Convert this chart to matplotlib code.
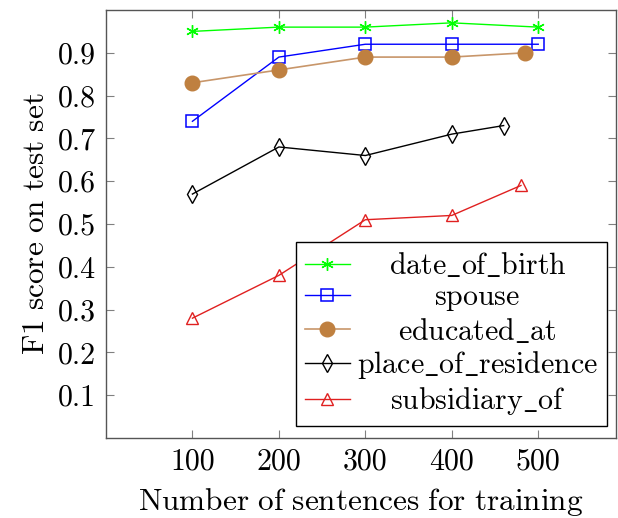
import matplotlib
matplotlib.use("Agg")
from matplotlib import pyplot as plt

# values
x_dob = [100, 200, 300, 400, 500]
f1_dob = [0.95, 0.96, 0.96, 0.97, 0.96]
x_spouse = [100, 200, 300, 400, 500]
f1_spouse = [0.74, 0.89, 0.92, 0.92, 0.92]
x_edu = [100, 200, 300, 400, 485]
f1_edu = [0.83, 0.86, 0.89, 0.89, 0.90]
x_res = [100, 200, 300, 400, 460]
f1_res = [0.57, 0.68, 0.66, 0.71, 0.73]
x_sub = [100, 200, 300, 400, 480]
f1_sub = [0.28, 0.38, 0.51, 0.52, 0.59]

labels = ["date_of_birth", "spouse", "educated_at", "place_of_residence", "subsidiary_of"]
x_ticks = [100, 200, 300, 400, 500]
y_ticks = [0.1, 0.2, 0.3, 0.4, 0.5, 0.6, 0.7, 0.8, 0.9]

plt.rcParams['font.family'] = 'serif'
plt.rcParams['font.serif'] = ['cmr10']
plt.rcParams['mathtext.fontset'] = 'cm'
plt.rcParams['axes.formatter.use_mathtext'] = True

FS_TICK = 21.5
FS_LABEL = 22.5
FS_LEG = 21.5


def tex(s):
    return r'$\mathrm{' + s.replace('_', r'\_').replace(' ', r'\ ') + '}$'


def main():
    fig = plt.figure(figsize=(6.18, 5.18), dpi=100)
    ax = fig.add_axes([0.1715, 0.1544, 0.8253, 0.8263])

    ax.plot(x_dob, f1_dob, color='#00ff00', lw=1.0, marker=(6, 2, 0), ms=9, mew=1.0, label=tex(labels[0]))
    ax.plot(x_spouse, f1_spouse, color='#0000ff', lw=1.0, marker='s', ms=9, mfc='none', mew=1.1, label=tex(labels[1]))
    ax.plot(x_edu, f1_edu, color='#c8966a', lw=1.2, marker='o', ms=10.5, mfc='#bf8040', mec='#bf8040', label=tex(labels[2]))
    ax.plot(x_res, f1_res, color='black', lw=1.0, marker='d', ms=9, mfc='none', mew=1.0, label=tex(labels[3]))
    ax.plot(x_sub, f1_sub, color='#e02020', lw=1.0, marker='^', ms=8.5, mfc='none', mew=1.0, label=tex(labels[4]))

    ax.set_xlim(0, 590)
    ax.set_ylim(0, 1.0)
    ax.set_xticks(x_ticks)
    ax.set_yticks(y_ticks)
    ax.set_xticklabels([str(v) for v in x_ticks])
    ax.set_yticklabels(['%.1f' % v for v in y_ticks])
    ax.tick_params(direction='in', length=6, width=0.8, color='#808080', labelsize=FS_TICK,
                   top=True, right=True, pad=7)
    for s in ax.spines.values():
        s.set_color('#555555')
        s.set_linewidth(1.0)

    ax.set_xlabel(tex('Number of sentences for training'), fontsize=FS_LABEL, labelpad=8)
    ax.set_ylabel(tex('F1 score on test set'), fontsize=FS_LABEL, labelpad=6)

    leg = ax.legend(loc='lower right', bbox_to_anchor=(0.982, 0.028), fontsize=FS_LEG, frameon=True,
                    fancybox=False, edgecolor='black', framealpha=1.0, handlelength=1.5,
                    handletextpad=0.25, labelspacing=0.12, borderpad=0.3, borderaxespad=0.0)
    leg.get_frame().set_linewidth(1.0)

    # pgfplots centres legend text: hide matplotlib's text, redraw it centred
    fig.canvas.draw()
    texts = leg.get_texts()
    boxes = [t.get_window_extent() for t in texts]
    cx = max(boxes, key=lambda b: b.width)
    cx = 0.5 * (cx.x0 + cx.x1)
    for t in texts:
        bx, by = t.get_transform().transform(t.get_position())
        t.set_alpha(0)
        fig.text(cx / fig.bbox.width, by / fig.bbox.height, t.get_text(), fontsize=FS_LEG,
                 ha='center', va='baseline')

    fig.savefig("out.png", dpi=100)


if __name__ == "__main__":
    main()
